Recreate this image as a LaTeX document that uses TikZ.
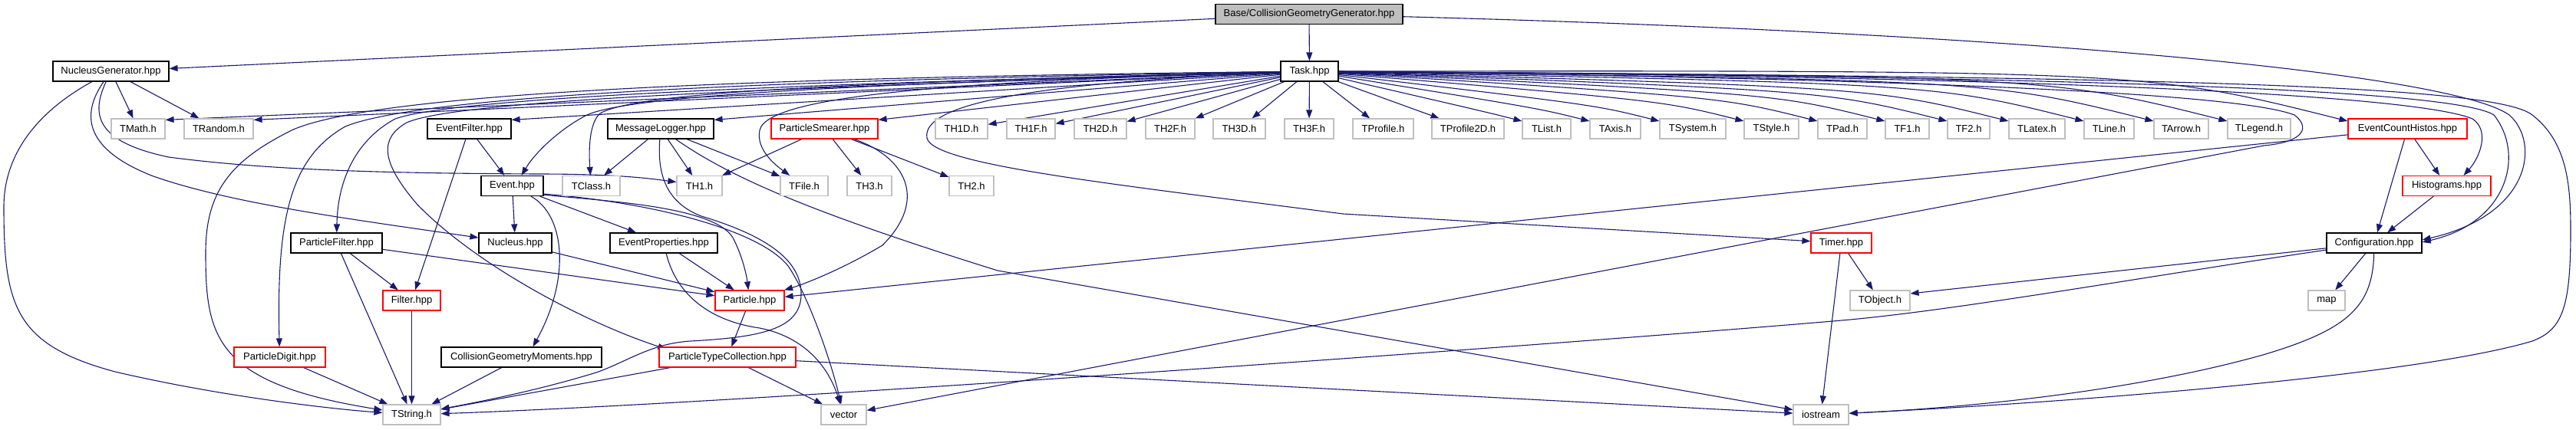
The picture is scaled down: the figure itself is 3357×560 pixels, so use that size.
\documentclass[tikz,border=0pt]{standalone}
\usepackage{fontspec}
\setmainfont{Liberation Sans}
\usetikzlibrary{arrows.meta}
\definecolor{edgeblue}{HTML}{191970}
\definecolor{extgray}{HTML}{BFBFBF}
\definecolor{rootfill}{HTML}{BFBFBF}
\pgfdeclarelayer{edges}
\pgfsetlayers{edges,main}
\begin{document}
\begin{tikzpicture}[x=1pt,y=-1pt,
  box/.style={draw=black, fill=white, line width=1.2pt, inner sep=0pt, minimum height=26pt, font=\fontsize{13}{15}\selectfont},
  ext/.style={box, draw=extgray},
  trunc/.style={box, draw=red},
  root/.style={box, fill=rootfill},
  edge/.style={draw=edgeblue, line width=1.1pt, -{Triangle[length=11pt,width=8pt]}}]
\useasboundingbox (0,0) rectangle (3357,560);
% row 0
\node[root, minimum width=244pt] (base) at (1706,18.5) {Base/CollisionGeometryGenerator.hpp};
% row 1
\node[box, minimum width=151pt] (ng) at (144.5,93) {NucleusGenerator.hpp};
\node[box, minimum width=75pt] (task) at (1706.5,93) {Task.hpp};
% row 2
\node[ext, minimum width=70pt] (tmath) at (180,168) {TMath.h};
\node[ext, minimum width=90pt] (trandom) at (285,168) {TRandom.h};
\node[box, minimum width=109pt] (efilter) at (611.5,168) {EventFilter.hpp};
\node[box, minimum width=138pt] (mlog) at (861,168) {MessageLogger.hpp};
\node[trunc, minimum width=139pt] (psmear) at (1074.5,168) {ParticleSmearer.hpp};
\node[ext, minimum width=68pt] (th1d) at (1253,168) {TH1D.h};
\node[ext, minimum width=63pt] (th1f) at (1343.5,168) {TH1F.h};
\node[ext, minimum width=68pt] (th2d) at (1434,168) {TH2D.h};
\node[ext, minimum width=64pt] (th2f) at (1525,168) {TH2F.h};
\node[ext, minimum width=68pt] (th3d) at (1615,168) {TH3D.h};
\node[ext, minimum width=64pt] (th3f) at (1706,168) {TH3F.h};
\node[ext, minimum width=79pt] (tprof) at (1802.5,168) {TProfile.h};
\node[ext, minimum width=94pt] (tprof2d) at (1913,168) {TProfile2D.h};
\node[ext, minimum width=63pt] (tlist) at (2015.5,168) {TList.h};
\node[ext, minimum width=66pt] (taxis) at (2105,168) {TAxis.h};
\node[ext, minimum width=86pt] (tsystem) at (2206,168) {TSystem.h};
\node[ext, minimum width=71pt] (tstyle) at (2308.5,168) {TStyle.h};
\node[ext, minimum width=64pt] (tpad) at (2401,168) {TPad.h};
\node[ext, minimum width=57pt] (tf1) at (2485.5,168) {TF1.h};
\node[ext, minimum width=55pt] (tf2) at (2565.5,168) {TF2.h};
\node[ext, minimum width=73pt] (tlatex) at (2654.5,168) {TLatex.h};
\node[ext, minimum width=65pt] (tline) at (2748.5,168) {TLine.h};
\node[ext, minimum width=71pt] (tarrow) at (2842.5,168) {TArrow.h};
\node[ext, minimum width=82pt] (tlegend) at (2944,168) {TLegend.h};
\node[trunc, minimum width=155pt] (ech) at (3137.5,168) {EventCountHistos.hpp};
% row 3
\node[box, minimum width=81pt] (event) at (667.5,242.5) {Event.hpp};
\node[ext, minimum width=75pt] (tclass) at (770.5,242.5) {TClass.h};
\node[ext, minimum width=59pt] (th1) at (911.5,242.5) {TH1.h};
\node[ext, minimum width=62pt] (tfile) at (1048,242.5) {TFile.h};
\node[ext, minimum width=58pt] (th3) at (1133,242.5) {TH3.h};
\node[ext, minimum width=58pt] (th2) at (1266,242.5) {TH2.h};
\node[trunc, minimum width=115pt] (hist) at (3188.5,242.5) {Histograms.hpp};
% row 4
\node[box, minimum width=119pt] (pfilter) at (438.5,317) {ParticleFilter.hpp};
\node[box, minimum width=95pt] (nucleus) at (671.5,317) {Nucleus.hpp};
\node[box, minimum width=140pt] (eprop) at (865,317) {EventProperties.hpp};
\node[trunc, minimum width=79pt] (timer) at (2399.5,317) {Timer.hpp};
\node[box, minimum width=124pt] (config) at (3094,317) {Configuration.hpp};
% row 5
\node[trunc, minimum width=75pt] (filter) at (536.5,392) {Filter.hpp};
\node[trunc, minimum width=90pt] (particle) at (977,392) {Particle.hpp};
\node[ext, minimum width=78pt] (tobject) at (2450,392) {TObject.h};
\node[ext, minimum width=48pt] (map) at (3032,392) {map};
% row 6
\node[trunc, minimum width=119pt] (pdigit) at (364.5,466) {ParticleDigit.hpp};
\node[box, minimum width=209pt] (cgm) at (679.5,466) {CollisionGeometryMoments.hpp};
\node[trunc, minimum width=178pt] (ptc) at (948,466) {ParticleTypeCollection.hpp};
% row 7
\node[ext, minimum width=75pt] (tstring) at (536.5,541) {TString.h};
\node[ext, minimum width=59pt] (vector) at (1099.5,541) {vector};
\node[ext, minimum width=72pt] (iostream) at (2373,541) {iostream};

\begin{pgfonlayer}{edges}
% ---- edges from Base
\draw[edge] (base) -- (ng);
\draw[edge] (base) -- (task);
\draw[edge] (base) .. controls (2700,45) and (3200,100) .. (3270,150) .. controls (3310,185) and (3300,280) .. ([yshift=4pt]config.east);

% ---- NucleusGenerator
\draw[edge] (ng) -- (tmath);
\draw[edge] (ng) -- (trandom);
\draw[edge] (ng) .. controls (50,145) and (5,200) .. (5,270) .. controls (5,400) and (20,450) .. (150,485) .. controls (300,520) and (450,535) .. (tstring);
\draw[edge] (ng) .. controls (105,150) and (110,195) .. (200,230) .. controls (300,265) and (450,285) .. (nucleus);
\draw[edge] (ng) .. controls (118,150) and (125,185) .. (220,205) .. controls (350,222) and (500,226) .. (700,227) .. controls (800,227) and (840,232) .. ([yshift=5pt]th1.west);

% ---- Task, left side
\draw[edge] (task) -- ([yshift=-2pt]tmath.north east);
\draw[edge] (task) -- ([yshift=-2pt]trandom.north east);
\draw[edge] (task) -- ([yshift=-2pt]efilter.north east);
\draw[edge] (task) -- ([yshift=-2pt]mlog.north east);
\draw[edge] (task) -- ([yshift=-2pt]psmear.north east);
\draw[edge] (task) .. controls (1100,110) and (820,125) .. (765,150) .. controls (735,165) and (700,195) .. ([xshift=12pt]event.north);
\draw[edge] (task) .. controls (1100,108) and (830,120) .. (782,148) .. controls (768,160) and (767,195) .. (tclass);
\draw[edge] (task) .. controls (1300,105) and (1000,120) .. (990,170) .. controls (985,195) and (1010,215) .. (tfile);
\draw[edge] (task) .. controls (1350,108) and (1200,135) .. (1208,180) .. controls (1215,215) and (1450,240) .. (1750,279) -- (timer);
\draw[edge] (task) .. controls (1100,100) and (500,115) .. (380,170) .. controls (300,210) and (268,250) .. (268,330) .. controls (268,440) and (280,500) .. ([yshift=6pt]tstring.west);
\draw[edge] (task) .. controls (1100,103) and (560,120) .. (450,165) .. controls (380,205) and (360,280) .. (pdigit);
\draw[edge] (task) .. controls (1100,108) and (600,125) .. (515,155) .. controls (460,185) and (440,240) .. (pfilter);
\draw[edge] (task) .. controls (1100,112) and (600,128) .. (530,160) .. controls (495,180) and (495,210) .. (544,267) .. controls (620,345) and (760,420) .. ([xshift=10pt,yshift=-3pt]ptc.north west);

% ---- Task, fan
\draw[edge] (task) -- (th1d);
\draw[edge] (task) -- (th1f);
\draw[edge] (task) -- (th2d);
\draw[edge] (task) -- (th2f);
\draw[edge] (task) -- (th3d);
\draw[edge] (task) -- (th3f);
\draw[edge] (task) -- (tprof);
\draw[edge] (task) -- (tprof2d);
\draw[edge] (task) .. controls (1936,146) .. ([yshift=10pt]tlist.west);
\draw[edge] (task) .. controls (2006,141.6) .. ([yshift=10pt]taxis.west);
\draw[edge] (task) .. controls (2079,137) .. ([yshift=10pt]tsystem.west);
\draw[edge] (task) .. controls (2167,131.5) .. ([yshift=10pt]tstyle.west);
\draw[edge] (task) .. controls (2244,126.7) .. ([yshift=10pt]tpad.west);
\draw[edge] (task) .. controls (2314,122.4) .. ([yshift=10pt]tf1.west);
\draw[edge] (task) .. controls (2379,118.3) .. ([yshift=10pt]tf2.west);
\draw[edge] (task) .. controls (2443,114.3) .. ([yshift=10pt]tlatex.west);
\draw[edge] (task) .. controls (2522,109.4) .. ([yshift=10pt]tline.west);
\draw[edge] (task) .. controls (2594,104.9) .. ([yshift=10pt]tarrow.west);
\draw[edge] (task) .. controls (2671,100) .. ([yshift=10pt]tlegend.west);
\draw[edge] (task) .. controls (2797,92) .. ([yshift=10pt]ech.west);

% ---- Task, right side
\draw[edge] (task) .. controls (2300,100) and (2900,115) .. (2990,150) .. controls (3010,165) and (3005,185) .. (2950,190) -- (vector);
\draw[edge] (task) .. controls (2700,100) and (3150,125) .. (3222,155) .. controls (3245,170) and (3232,205) .. ([xshift=22pt]hist.north);
\draw[edge] (task) .. controls (2750,100) and (3200,118) .. (3250,150) .. controls (3290,200) and (3270,290) .. ([yshift=1pt]config.east);
\draw[edge] (task) .. controls (2800,100) and (3250,110) .. (3300,150) .. controls (3345,185) and (3350,240) .. (3350,300) .. controls (3350,400) and (3340,430) .. (3300,445) .. controls (3150,490) and (2700,525) .. (iostream);

% ---- EventFilter
\draw[edge] (efilter) -- (event);
\draw[edge] (efilter) -- (filter);

% ---- MessageLogger
\draw[edge] (mlog) -- (tclass);
\draw[edge] (mlog) -- (th1);
\draw[edge] (mlog) -- (tfile);
\draw[edge] (mlog) .. controls (950,230) and (1050,275) .. (1300,353) -- (iostream);
\draw[edge] (mlog) .. controls (856,230) and (870,265) .. (914,282) .. controls (1000,308) and (1045,340) .. (1044,385) .. controls (1043,430) and (990,440) .. (900,445) .. controls (850,448) and (820,470) .. (780,485) .. controls (700,510) and (620,525) .. (tstring);

% ---- ParticleSmearer
\draw[edge] (psmear) -- (th1);
\draw[edge] (psmear) -- (th3);
\draw[edge] (psmear) -- (th2);
\draw[edge] (psmear) .. controls (1180,205) and (1210,260) .. (1150,320) .. controls (1100,350) and (1050,370) .. (particle);

% ---- Event
\draw[edge] (event) -- (nucleus);
\draw[edge] (event) -- (eprop);
\draw[edge] (event) .. controls (735,280) and (745,360) .. ([xshift=15pt]cgm.north);
\draw[edge] ([yshift=2pt]event.south east) .. controls (780,262) and (930,268) .. (955,310) .. controls (968,335) and (973,360) .. (particle);
\draw[edge] ([yshift=3pt]event.south east) .. controls (850,264) and (990,300) .. (1027,347) .. controls (1050,380) and (1080,460) .. (vector);

% ---- others
\draw[edge] (nucleus) -- (particle);
\draw[edge] (pfilter) -- (filter);
\draw[edge] (pfilter) -- (tstring);
\draw[edge] (pfilter) -- (particle);
\draw[edge] (filter) -- (tstring);
\draw[edge] (eprop) -- (particle);
\draw[edge] (eprop) .. controls (880,380) and (920,418) .. (990,428) .. controls (1050,440) and (1080,480) .. (vector);
\draw[edge] (particle) -- (ptc);
\draw[edge] (pdigit) -- (tstring);
\draw[edge] (cgm) -- (tstring);
\draw[edge] (ptc) -- (tstring);
\draw[edge] (ptc) -- (vector);
\draw[edge] (ptc) -- (iostream);

% ---- EventCountHistos, Histograms
\draw[edge] (ech) -- (particle);
\draw[edge] (ech) -- (hist);
\draw[edge] (ech) -- (config);
\draw[edge] (hist) -- (config);

% ---- Configuration
\draw[edge] (config) -- ([yshift=9pt]tobject.east);
\draw[edge] (config) -- (map);
\draw[edge] (config) .. controls (3092,400) and (3060,430) .. (2949,463) .. controls (2800,505) and (2600,530) .. (iostream);
\draw[edge] (config) .. controls (2800,360) and (2550,405) .. (2400,418) .. controls (2100,444) and (1000,525) .. (tstring);

% ---- Timer
\draw[edge] (timer) -- (tobject);
\draw[edge] (timer) -- (iostream);
\end{pgfonlayer}
\end{tikzpicture}
\end{document}
